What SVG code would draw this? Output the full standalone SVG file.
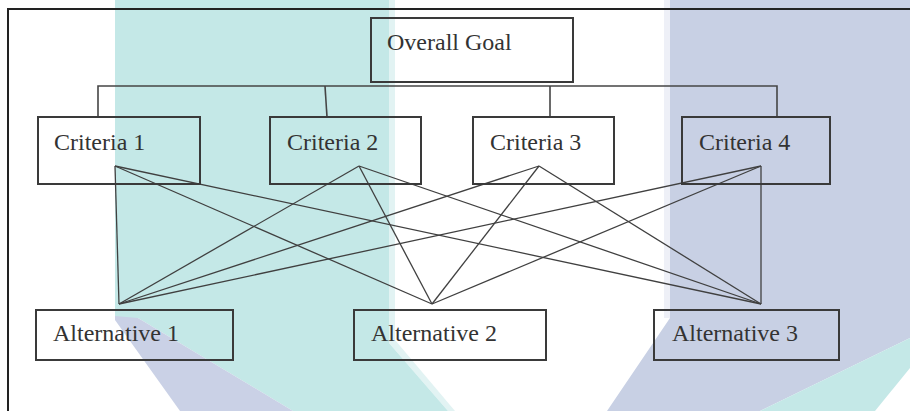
<svg xmlns="http://www.w3.org/2000/svg" width="910" height="411" viewBox="0 0 910 411">
  <style>
    .box { fill: none; stroke: #3a3a3a; stroke-width: 2; }
    .lbl { font-family: "Liberation Serif", "Times New Roman", serif; font-size: 24px; fill: #333; }
    .tree { fill: none; stroke: #454545; stroke-width: 1.6; }
    .link { stroke: #404040; stroke-width: 1.3; fill: none; }
  </style>

  <!-- background tint bands -->
  <g id="backdrop">
    <rect x="0" y="0" width="910" height="411" fill="#ffffff"/>
    <polygon points="389,0 395,0 395,340 455,411 448,411 389,343" fill="#e2f3f3"/>
    <polygon points="115,0 389,0 389,343 448,411 293,411 138,318 115,318" fill="#c4e8e7"/>
    <polygon points="115,316 138,318 293,411 180,411 115,320" fill="#cad1e6"/>
    <rect x="664" y="0" width="6" height="318" fill="#eef0f7"/>
    <polygon points="670,0 910,0 910,338 760,411 607,411 670,318" fill="#c8d0e4"/>
    <polygon points="910,338 910,368 875,411 760,411" fill="#c4e8e7"/>
  </g>

  <!-- outer frame -->
  <g id="frame">
    <path d="M8,411 V9 H910" fill="none" stroke="#222" stroke-width="2"/>
  </g>

  <!-- goal-to-criteria bracket and criteria-to-alternative links -->
  <g id="connectors">
    <path class="tree" d="M98,117 V86 H777 V117"/>
    <line class="tree" x1="325" y1="86" x2="327" y2="117"/>
    <line class="tree" x1="550" y1="86" x2="550" y2="117"/>

    <line class="link" x1="115" y1="166" x2="119" y2="304"/>
    <line class="link" x1="115" y1="166" x2="432" y2="304"/>
    <line class="link" x1="115" y1="166" x2="761" y2="304"/>

    <line class="link" x1="359" y1="166" x2="119" y2="304"/>
    <line class="link" x1="359" y1="166" x2="432" y2="304"/>
    <line class="link" x1="359" y1="166" x2="761" y2="304"/>

    <line class="link" x1="539" y1="166" x2="119" y2="304"/>
    <line class="link" x1="539" y1="166" x2="432" y2="304"/>
    <line class="link" x1="539" y1="166" x2="761" y2="304"/>

    <line class="link" x1="761" y1="166" x2="119" y2="304"/>
    <line class="link" x1="761" y1="166" x2="432" y2="304"/>
    <line class="link" x1="761" y1="166" x2="761" y2="304"/>
  </g>

  <g id="goal">
    <rect class="box" x="371" y="18" width="202" height="64"/>
    <text class="lbl" x="387" y="50">Overall Goal</text>
  </g>

  <g id="criteria1">
    <rect class="box" x="38" y="117" width="162" height="67"/>
    <text class="lbl" x="54" y="150">Criteria 1</text>
  </g>
  <g id="criteria2">
    <rect class="box" x="270" y="117" width="151" height="67"/>
    <text class="lbl" x="287" y="150">Criteria 2</text>
  </g>
  <g id="criteria3">
    <rect class="box" x="473" y="117" width="141" height="67"/>
    <text class="lbl" x="490" y="150">Criteria 3</text>
  </g>
  <g id="criteria4">
    <rect class="box" x="682" y="117" width="148" height="67"/>
    <text class="lbl" x="699" y="150">Criteria 4</text>
  </g>

  <g id="alternative1">
    <rect class="box" x="36" y="310" width="197" height="50"/>
    <text class="lbl" x="53" y="341">Alternative 1</text>
  </g>
  <g id="alternative2">
    <rect class="box" x="354" y="310" width="192" height="50"/>
    <text class="lbl" x="371" y="341">Alternative 2</text>
  </g>
  <g id="alternative3">
    <rect class="box" x="654" y="310" width="185" height="50"/>
    <text class="lbl" x="672" y="341">Alternative 3</text>
  </g>
</svg>
